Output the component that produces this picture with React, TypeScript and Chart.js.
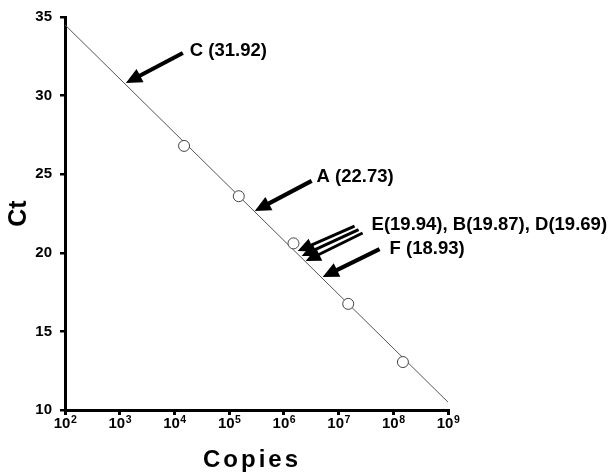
import React, { useEffect, useRef } from 'react';
import { Chart, registerables } from 'chart.js';

Chart.register(...registerables);

// Standard curve points
const copies = [1.5e4, 1.5e5, 1.5e6, 1.5e7, 1.5e8];
const ctValues = [26.8, 23.6, 20.6, 16.75, 13.05];

// Regression line end points
const fitCopies = [1e2, 1e9];
const fitCt = [34.5, 10.5];

// Axis ticks
const xTickExponents = [2, 3, 4, 5, 6, 7, 8, 9];
const yMin = 10;
const yMax = 35;
const yStep = 5;

// Annotation labels (anchor in data coords)
const annLabels = ['C (31.92)', 'A (22.73)', 'E(19.94), B(19.87), D(19.69)', 'F (18.93)'];
const annLabelX = [1.91e4, 3.97e6, 4.01e7, 8.55e7];
const annLabelY = [32.84, 24.82, 21.77, 20.27];

// Arrows (tail -> tip, data coords): C, A, E, B, D, F
const arrowTailX = [1.426e4, 3.22e6, 1.96e7, 2.32e7, 2.75e7, 5.61e7];
const arrowTailY = [32.71, 24.57, 21.7, 21.48, 21.26, 20.24];
const arrowTipX = [1.297e3, 2.94e5, 1.79e6, 2.12e6, 2.51e6, 5.12e6];
const arrowTipY = [30.8, 22.66, 20.11, 19.8, 19.48, 18.46];

const FONT = 'Arial, "Liberation Sans", sans-serif';

const overlayPlugin = {
  id: 'overlay',
  afterDatasetsDraw(chart: any) {
    const ctx = chart.ctx as CanvasRenderingContext2D;
    const xs = chart.scales.x;
    const ys = chart.scales.y;
    ctx.save();
    // arrows
    for (let i = 0; i < arrowTailX.length; i++) {
      const thin = i >= 2 && i <= 4;
      const lw = thin ? 3 : 4.2;
      const L = thin ? 15 : 16;
      const hw = thin ? 7 : 7.5;
      const x1 = xs.getPixelForValue(arrowTailX[i]);
      const y1 = ys.getPixelForValue(arrowTailY[i]);
      const x2 = xs.getPixelForValue(arrowTipX[i]);
      const y2 = ys.getPixelForValue(arrowTipY[i]);
      const dx = x2 - x1;
      const dy = y2 - y1;
      const len = Math.hypot(dx, dy);
      const ux = dx / len;
      const uy = dy / len;
      const bx = x2 - ux * L;
      const by = y2 - uy * L;
      ctx.strokeStyle = '#000';
      ctx.fillStyle = '#000';
      ctx.lineWidth = lw;
      ctx.lineCap = 'butt';
      ctx.beginPath();
      ctx.moveTo(x1, y1);
      ctx.lineTo(bx + ux * 2, by + uy * 2);
      ctx.stroke();
      ctx.beginPath();
      ctx.moveTo(x2, y2);
      ctx.lineTo(bx - uy * hw, by + ux * hw);
      ctx.lineTo(bx + uy * hw, by - ux * hw);
      ctx.closePath();
      ctx.fill();
    }
    // annotation labels
    ctx.font = `bold 18.5px ${FONT}`;
    ctx.textAlign = 'left';
    ctx.textBaseline = 'middle';
    ctx.fillStyle = '#000';
    for (let i = 0; i < annLabels.length; i++) {
      ctx.fillText(annLabels[i], xs.getPixelForValue(annLabelX[i]), ys.getPixelForValue(annLabelY[i]));
    }
    ctx.restore();
  },
  afterDraw(chart: any) {
    const ctx = chart.ctx as CanvasRenderingContext2D;
    const xs = chart.scales.x;
    const area = chart.chartArea;
    ctx.save();
    ctx.fillStyle = '#000';
    ctx.textBaseline = 'alphabetic';
    ctx.textAlign = 'left';
    const baseY = area.bottom + 18;
    for (const e of xTickExponents) {
      const px = xs.getPixelForValue(Math.pow(10, e));
      ctx.font = `bold 15px ${FONT}`;
      const wBase = ctx.measureText('10').width;
      ctx.font = `bold 10.5px ${FONT}`;
      const sup = String(e);
      const wSup = ctx.measureText(sup).width;
      const start = px - (wBase + wSup) / 2;
      ctx.font = `bold 15px ${FONT}`;
      ctx.fillText('10', start, baseY);
      ctx.font = `bold 10.5px ${FONT}`;
      ctx.fillText(sup, start + wBase + 0.5, baseY - 5.5);
    }
    // x axis title with letter spacing
    ctx.font = `bold 24px ${FONT}`;
    const title = 'Copies';
    (ctx as any).letterSpacing = '3px';
    const w = ctx.measureText(title).width - 3;
    const cx = (area.left + area.right) / 2 - 6;
    ctx.fillText(title, cx - w / 2, area.bottom + 57);
    (ctx as any).letterSpacing = '0px';
    ctx.restore();
  },
};

export default function App() {
  const canvasRef = useRef<HTMLCanvasElement | null>(null);

  useEffect(() => {
    if (!canvasRef.current) return;
    const chart = new Chart(canvasRef.current, {
      type: 'scatter',
      data: {
        datasets: [
          {
            label: 'Standards',
            data: copies.map((c, i) => ({ x: c, y: ctValues[i] })),
            pointRadius: 5.5,
            pointBackgroundColor: '#fff',
            pointBorderColor: '#444',
            pointBorderWidth: 1,
            showLine: false,
          },
          {
            label: 'Fit',
            type: 'line',
            data: fitCopies.map((c, i) => ({ x: c, y: fitCt[i] })),
            borderColor: '#555',
            borderWidth: 1,
            pointRadius: 0,
            fill: false,
          } as any,
        ],
      },
      options: {
        animation: false,
        responsive: false,
        maintainAspectRatio: false,
        layout: { padding: { top: 17, right: 160, left: 0, bottom: 0 } },
        plugins: {
          legend: { display: false },
          tooltip: { enabled: false },
        },
        scales: {
          x: {
            type: 'logarithmic',
            position: 'bottom',
            min: 1e2,
            max: 1e9,
            afterBuildTicks: (s: any) => {
              s.ticks = xTickExponents.map((e) => ({ value: Math.pow(10, e) }));
            },
            afterFit: (s: any) => {
              s.height = 64;
            },
            ticks: { display: false },
            grid: {
              drawOnChartArea: false,
              drawTicks: true,
              tickLength: 5,
              lineWidth: 3,
              color: '#000',
            },
            border: { display: true, color: '#000', width: 3 },
          },
          y: {
            type: 'linear',
            min: yMin,
            max: yMax,
            afterFit: (s: any) => {
              s.width = 65;
            },
            ticks: {
              stepSize: yStep,
              color: '#000',
              padding: 8,
              font: { family: FONT, size: 15, weight: 'bold' },
            },
            grid: {
              drawOnChartArea: false,
              drawTicks: true,
              tickLength: 5,
              lineWidth: 2.5,
              color: '#000',
            },
            border: { display: true, color: '#000', width: 3 },
            title: {
              display: true,
              text: 'Ct',
              color: '#000',
              font: { family: FONT, size: 25, weight: 'bold' },
              padding: { top: 4, bottom: 4 },
            },
          },
        },
      },
      plugins: [overlayPlugin],
    } as any);
    return () => chart.destroy();
  }, []);

  return (
    <div style={{ position: 'absolute', left: 0, top: 0, width: 608, height: 474, background: '#fff' }}>
      <canvas ref={canvasRef} width={608} height={474} style={{ display: 'block' }} />
    </div>
  );
}
